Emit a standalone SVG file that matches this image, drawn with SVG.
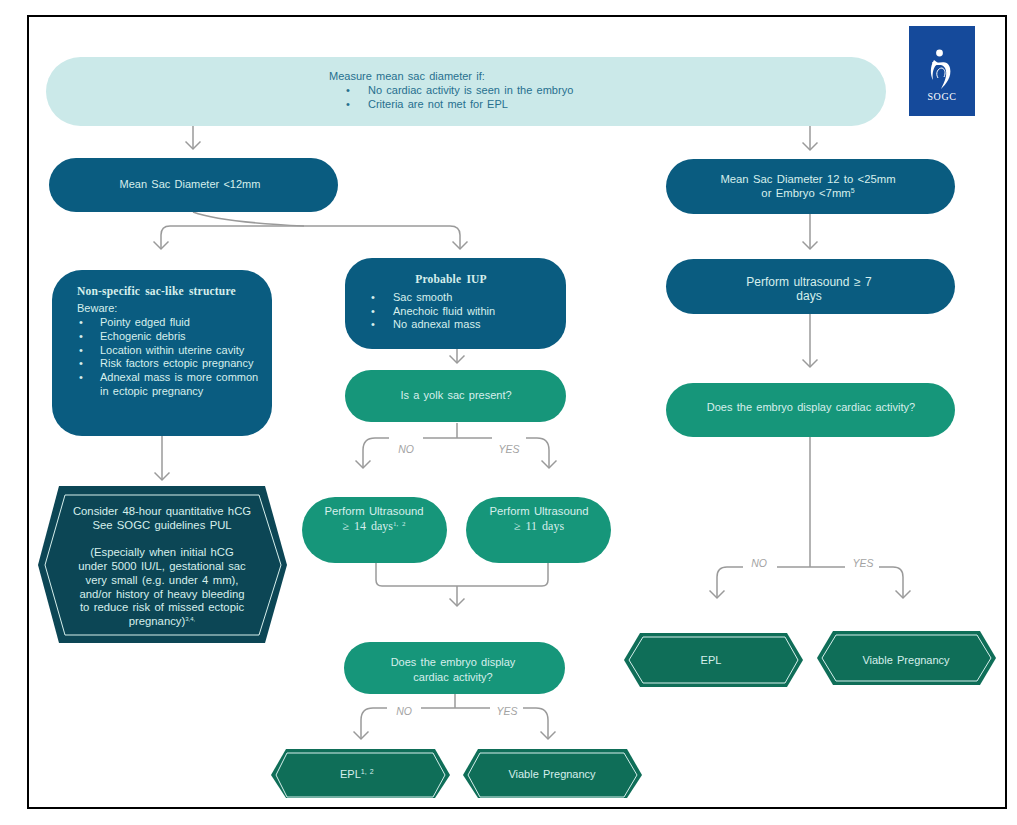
<svg xmlns="http://www.w3.org/2000/svg" width="1017" height="825" viewBox="0 0 1017 825">
<style>
text{font-family:"Liberation Sans",Arial,sans-serif;font-size:11px;fill:#d6efec;word-spacing:1.2px}
.m{text-anchor:middle}
.t{fill:#27708f}
.b{font-family:"Liberation Serif","Times New Roman",serif;font-weight:bold;font-size:11.5px;word-spacing:2px;letter-spacing:.2px}
.s{font-family:"Liberation Serif","Times New Roman",serif;font-size:12px;word-spacing:2px}
.l{fill:#a3a3a3;font-style:italic;font-size:10.5px}
.w{font-size:11.3px}
.blue{fill:#0a5c80}.green{fill:#16967a}.dg{fill:#0f6e58}
.in{fill:none;stroke:#d6efec;stroke-width:1}
.c{fill:none;stroke:#9a9a9a;stroke-width:1.5}
.a{marker-end:url(#ah)}
</style>
<defs>
<marker id="ah" markerUnits="userSpaceOnUse" markerWidth="18" markerHeight="16" refX="15" refY="8" orient="auto"><path d="M7.5 0.5L15 8L7.5 15.5" fill="none" stroke="#9a9a9a" stroke-width="1.5"/></marker>
</defs>
<rect width="1017" height="825" fill="#fff"/>
<rect x="28" y="16" width="978" height="792" fill="none" stroke="#000" stroke-width="2"/>
<g id="connectors">
<path class="c a" d="M193 126V149"/>
<path class="c a" d="M810 126V150"/>
<path class="c" d="M193 212C215 220 260 224 304 226"/>
<path class="c a" d="M304 226H170Q161 226 161 235V249"/>
<path class="c a" d="M304 226H450Q460 226 460 235V249"/>
<path class="c a" d="M162 436V480"/>
<path class="c a" d="M457 349V363"/>
<path class="c" d="M457 423V438"/>
<path class="c" d="M423 438H492"/>
<path class="c a" d="M389 438H375Q363 438 363 450V468"/>
<path class="c a" d="M526 438H537Q549 438 549 450V468"/>
<path class="c" d="M376 563V580Q376 586 382 586H542Q548 586 548 580V563"/>
<path class="c a" d="M457 586V606"/>
<path class="c" d="M455 694V708"/>
<path class="c" d="M421 708H490"/>
<path class="c a" d="M387 708H373Q361 708 361 720V739"/>
<path class="c a" d="M523 708H536Q548 708 548 720V739"/>
<path class="c a" d="M810 214V249"/>
<path class="c a" d="M810 314V367"/>
<path class="c" d="M810 437V567"/>
<path class="c" d="M777 567H845"/>
<path class="c a" d="M743 567H727Q717 567 717 577V598"/>
<path class="c a" d="M879 567H893Q903 567 903 577V598"/>
<text class="l m" x="406" y="453">NO</text>
<text class="l m" x="509" y="453">YES</text>
<text class="l m" x="404" y="715">NO</text>
<text class="l m" x="507" y="715">YES</text>
<text class="l m" x="759" y="567">NO</text>
<text class="l m" x="863" y="567">YES</text>
</g>
<g id="start">
<rect x="46" y="57" width="840" height="69" rx="34.5" fill="#cbe9e9"/>
<text class="t" x="329" y="80">Measure mean sac diameter if:</text>
<text class="t" x="346" y="94">•</text><text class="t" x="368" y="94">No cardiac activity is seen in the embryo</text>
<text class="t" x="346" y="108">•</text><text class="t" x="368" y="108">Criteria are not met for EPL</text>
</g>
<g id="logo">
<rect x="909" y="26" width="66" height="90" fill="#154a9b"/>
<circle cx="939.5" cy="53" r="3.4" fill="#fff"/>
<path d="M932 62C938 65 947 58 950 68C952 77 946 84 941 89C945 81 948 74 945 68C942 63 937 66 933 65Z" fill="#fff"/>
<path d="M934 60C930 66 930 75 933 80C932 74 933 67 938 63Z" fill="#fff"/>
<path d="M938 78C935 73 938 68 942 68C945 69 946 73 944 77" fill="none" stroke="#fff" stroke-width="1"/>
<text class="m" x="942" y="100" style="font-family:'Liberation Serif',serif;font-size:10px;fill:#fff;letter-spacing:.6px">SOGC</text>
</g>
<g id="msd-small">
<rect class="blue" x="49" y="158" width="289" height="54" rx="27"/>
<text class="m" x="190" y="188">Mean Sac Diameter &lt;12mm</text>
</g>
<g id="nonspecific">
<rect class="blue" x="52" y="270" width="220" height="166" rx="30"/>
<text class="b" x="77" y="295">Non-specific sac-like structure</text>
<text x="77" y="312">Beware:</text>
<text x="79" y="326">•</text><text x="100" y="326">Pointy edged fluid</text>
<text x="79" y="340">•</text><text x="100" y="340">Echogenic debris</text>
<text x="79" y="354">•</text><text x="100" y="354">Location within uterine cavity</text>
<text x="79" y="367">•</text><text x="100" y="367">Risk factors ectopic pregnancy</text>
<text x="79" y="381">•</text><text x="100" y="381">Adnexal mass is more common</text>
<text x="100" y="395">in ectopic pregnancy</text>
</g>
<g id="consider">
<polygon points="38,565 59,486 265,486 287,565 265,643 59,643" fill="#0c4655"/>
<polygon class="in" points="45,565 65,495 259,495 281,565 259,635 65,635"/>
<text class="m w" x="162" y="515">Consider 48-hour quantitative hCG</text>
<text class="m w" x="162" y="529">See SOGC guidelines PUL</text>
<text class="m w" x="162" y="556">(Especially when initial hCG</text>
<text class="m w" x="162" y="570">under 5000 IU/L, gestational sac</text>
<text class="m w" x="162" y="584">very small (e.g. under 4 mm),</text>
<text class="m w" x="162" y="598">and/or history of heavy bleeding</text>
<text class="m w" x="162" y="611">to reduce risk of missed ectopic</text>
<text class="m w" x="162" y="625">pregnancy)<tspan font-size="6" dy="-4">3,4,</tspan></text>
</g>
<g id="iup">
<rect class="blue" x="345" y="258" width="221" height="91" rx="27"/>
<text class="b m" x="451" y="283">Probable IUP</text>
<text x="371" y="301">•</text><text x="393" y="301">Sac smooth</text>
<text x="371" y="315">•</text><text x="393" y="315">Anechoic fluid within</text>
<text x="371" y="328">•</text><text x="393" y="328">No adnexal mass</text>
</g>
<g id="yolk">
<rect class="green" x="345" y="370" width="221" height="52" rx="26"/>
<text class="m" x="456" y="399">Is a yolk sac present?</text>
</g>
<g id="us14">
<rect class="green" x="302" y="497" width="145" height="66" rx="33"/>
<text class="m w" x="374" y="515">Perform Ultrasound</text>
<text class="s m" x="374" y="530">≥ 14 days<tspan font-size="7" dy="-4">1, 2</tspan></text>
</g>
<g id="us11">
<rect class="green" x="466" y="497" width="145" height="66" rx="33"/>
<text class="m w" x="539" y="515">Perform Ultrasound</text>
<text class="s m" x="539" y="530">≥ 11 days</text>
</g>
<g id="cardiac-left">
<rect class="green" x="344" y="642" width="221" height="52" rx="26"/>
<text class="m" x="453" y="666">Does the embryo display</text>
<text class="m" x="453" y="681">cardiac activity?</text>
</g>
<g id="epl-left">
<polygon class="dg" points="271,775 286,749 435,749 450,775 435,798 286,798"/>
<polygon class="in" points="276,775 287,753 433,753 445,775 433,797 287,797"/>
<text x="340" y="778">EPL<tspan font-size="7" dy="-4">1, 2</tspan></text>
</g>
<g id="viable-left">
<polygon class="dg" points="463,775 478,749 627,749 642,775 627,798 478,798"/>
<polygon class="in" points="468,775 480,753 624,753 637,775 624,797 480,797"/>
<text class="m" x="552" y="778">Viable Pregnancy</text>
</g>
<g id="msd-large">
<rect class="blue" x="666" y="159" width="289" height="55" rx="27.5"/>
<text class="m" x="808" y="183" style="font-size:11.3px">Mean Sac Diameter 12 to &lt;25mm</text>
<text class="m" x="808" y="197" style="font-size:11.3px">or Embryo &lt;7mm<tspan font-size="7" dy="-4">5</tspan></text>
</g>
<g id="us7">
<rect class="blue" x="666" y="259" width="289" height="55" rx="27.5"/>
<text class="m" x="809" y="286" style="font-size:12px">Perform ultrasound ≥ 7</text>
<text class="m" x="809" y="300" style="font-size:12px">days</text>
</g>
<g id="cardiac-right">
<rect class="green" x="666" y="383" width="289" height="54" rx="27"/>
<text class="m" x="811" y="411">Does the embryo display cardiac activity?</text>
</g>
<g id="epl-right">
<polygon class="dg" points="624,660 640,633 787,633 803,660 787,687 640,687"/>
<polygon class="in" points="629,660 643,637 785,637 798,660 785,683 643,683"/>
<text class="m" x="711" y="664">EPL</text>
</g>
<g id="viable-right">
<polygon class="dg" points="817,658 833,631 980,631 996,658 980,685 833,685"/>
<polygon class="in" points="822,658 836,635 977,635 991,658 977,681 836,681"/>
<text class="m" x="906" y="664">Viable Pregnancy</text>
</g>
</svg>
